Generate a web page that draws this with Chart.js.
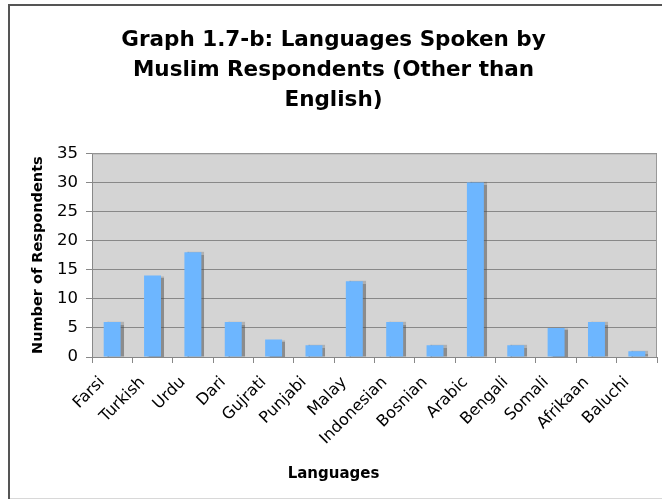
<!DOCTYPE html>
<html>
<head>
<meta charset="utf-8">
<script src="https://cdn.jsdelivr.net/npm/chart.js@4.4.1/dist/chart.umd.min.js"></script>
<style>
  html, body { margin: 0; padding: 0; background: #fff; }
  #wrap { width: 662px; height: 501px; position: relative; }
</style>
</head>
<body>
<div id="wrap"><canvas id="chart1"></canvas></div>
<script>
const languages = ['Farsi', 'Turkish', 'Urdu', 'Dari', 'Gujrati', 'Punjabi', 'Malay',
  'Indonesian', 'Bosnian', 'Arabic', 'Bengali', 'Somali', 'Afrikaan', 'Baluchi']
const respondents = [6, 14, 18, 6, 3, 2, 13, 6, 2, 30, 2, 5, 6, 1]
const yTicks = [0, 5, 10, 15, 20, 25, 30, 35]

const titleLines = ['Graph 1.7-b: Languages Spoken by', 'Muslim Respondents (Other than', 'English)']

// frame around the whole picture + grey plot background
const backdrop = {
    id: 'backdrop',
    beforeDraw(chart) {
        const c = chart.ctx
        const a = chart.chartArea
        c.save()
        c.fillStyle = '#fff'
        c.fillRect(0, 0, chart.width, chart.height)
        c.strokeStyle = '#d8d8d8'
        c.lineWidth = 1
        c.strokeRect(9.5, 5.5, 660, 493)
        c.strokeStyle = '#555'
        c.lineWidth = 2
        c.beginPath()
        c.moveTo(9, 499)
        c.lineTo(9, 5)
        c.lineTo(662, 5)
        c.stroke()
        c.fillStyle = '#d4d4d4'
        c.fillRect(a.left, a.top, a.right - a.left, a.bottom - a.top)
        c.restore()
    },
    afterDraw(chart) {
        const c = chart.ctx
        const a = chart.chartArea
        c.save()
        c.strokeStyle = '#999'
        c.lineWidth = 1
        c.beginPath()
        c.moveTo(a.left, a.top + 0.5)
        c.lineTo(a.right - 0.5, a.top + 0.5)
        c.lineTo(a.right - 0.5, a.bottom)
        c.stroke()
        c.restore()
    }
}

// soft shadow on the right side of bars
const barShadow = {
    id: 'barShadow',
    beforeDatasetsDraw(chart) {
        const c = chart.ctx
        c.save()
        c.shadowColor = 'rgba(80,80,80,0.55)'
        c.shadowOffsetX = 3
        c.shadowOffsetY = 0
        c.shadowBlur = 1
    },
    afterDatasetsDraw(chart) {
        chart.ctx.restore()
    }
}

Chart.defaults.font.family = '"DejaVu Sans", Verdana, sans-serif'
Chart.defaults.color = '#000'

let chart = new Chart('chart1', {
    type: 'bar',
    data: {
        labels: languages,
        datasets: [{
            data: respondents,
            backgroundColor: '#6db6ff',
            borderWidth: 0,
            barPercentage: 0.42,
            categoryPercentage: 1
        }]
    },
    options: {
        responsive: true,
        maintainAspectRatio: false,
        animation: false,
        layout: { padding: { left: 10, right: 5, top: 25, bottom: 10 } },
        scales: {
            x: {
                offset: true,
                grid: {
                    display: true,
                    drawOnChartArea: false,
                    offset: true,
                    tickLength: 6,
                    color: '#888'
                },
                border: { display: true, color: '#888' },
                ticks: {
                    font: { size: 16 },
                    minRotation: 45,
                    maxRotation: 45,
                    padding: 10,
                    labelOffset: -10,
                    autoSkip: false
                },
                afterFit(scale) { scale.height = 108 }
            },
            y: {
                min: 0,
                max: 35,
                afterBuildTicks(scale) { scale.ticks = yTicks.map(v => ({ value: v })) },
                grid: {
                    color: '#888',
                    tickLength: 6
                },
                border: { display: true, color: '#888' },
                ticks: {
                    font: { size: 16.5 },
                    padding: 8
                },
                title: {
                    display: true,
                    text: 'Number of Respondents',
                    font: { size: 14.5, weight: 'bold' },
                    padding: { top: 20, bottom: 2 }
                },
                afterFit(scale) { scale.width = 82 }
            }
        },
        plugins: {
            legend: { display: false },
            tooltip: { enabled: false },
            title: {
                display: true,
                text: titleLines,
                font: { size: 21.5, weight: 'bold', lineHeight: 1.4 },
                padding: { top: 0, bottom: 38 }
            },
            subtitle: {
                display: true,
                position: 'bottom',
                text: 'Languages',
                font: { size: 15, weight: 'bold' },
                padding: { top: 0, bottom: 8 }
            }
        }
    },
    plugins: [backdrop, barShadow]
})
</script>
</body>
</html>
